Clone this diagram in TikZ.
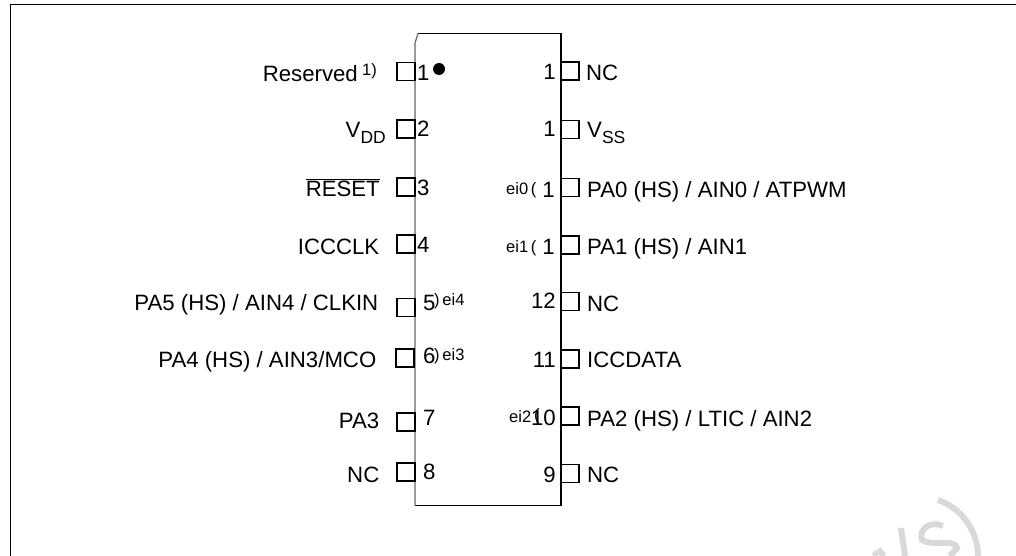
\documentclass[tikz,border=0pt]{standalone}
\usepackage{fontspec}
\setmainfont{Liberation Sans}
\newcommand{\lowtext}[1]{\raisebox{-6pt}{\fontsize{17.5}{17.5}\selectfont #1}}
\begin{document}
\begin{tikzpicture}[
    x=1pt,y=-1pt,
    line join=miter,
    pinbox/.style={rectangle,draw,line width=1.6pt,minimum width=18pt,minimum height=18pt,inner sep=0pt},
    pinname/.style={inner sep=0pt,anchor=base east,font=\fontsize{22.2}{22.2}\selectfont},
    rightname/.style={inner sep=0pt,anchor=base west,font=\fontsize{22.2}{22.2}\selectfont},
    pinnum/.style={inner sep=0pt,anchor=base west,font=\fontsize{22.2}{22.2}\selectfont},
    rightnum/.style={inner sep=0pt,anchor=base east,font=\fontsize{22.2}{22.2}\selectfont},
    tiny/.style={inner sep=0pt,anchor=base west,font=\fontsize{16.5}{16.5}\selectfont},
    stamp/.style={line width=6pt,color=black!15},
  ]

    \useasboundingbox (0,0) rectangle (1016,556);

    % frame
    \draw[line width=1.3pt] (10.5,556) -- (10.5,4.5) -- (1016,4.5);

    % package
    \coordinate (tl) at (415,43);
    \coordinate (tc) at (418,33.5);
    \coordinate (tr) at (561,33.5);
    \coordinate (br) at (561,505.5);
    \coordinate (bl) at (415,505.5);
    \draw[line width=1.7pt] (tc) -- (tr) -- (br) -- (bl);
    \draw[line width=1.2pt,color=black!60] (tc) -- (tl) -- (bl);
    \node[circle,fill,inner sep=0pt,minimum size=12pt] (dot) at (439,69) {};

    % left pins
    \node[pinbox] (p1)  at (406,71.5)  {};
    \node[pinbox] (p2)  at (406,129)   {};
    \node[pinbox] (p3)  at (406,187)   {};
    \node[pinbox] (p4)  at (406,244)   {};
    \node[pinbox] (p5)  at (406,307.5) {};
    \node[pinbox] (p6)  at (405,358)   {};
    \node[pinbox] (p7)  at (406,422)   {};
    \node[pinbox] (p8)  at (406,472)   {};

    % right pins
    \node[pinbox] (p20) at (570,71)    {};
    \node[pinbox] (p19) at (570,129.5) {};
    \node[pinbox] (p18) at (570,187.5) {};
    \node[pinbox] (p17) at (570,245)   {};
    \node[pinbox] (p12) at (570,301.5) {};
    \node[pinbox] (p11) at (570,359)   {};
    \node[pinbox] (p10) at (570,416)   {};
    \node[pinbox] (p9)  at (570,473.5) {};

    % left names
    \node[pinname] (n1) at (358,82)  {Reserved};
    \node[tiny]    (s1) at (362,76)  {1)};
    \node[pinname] (n2) at (386,138) {V\lowtext{DD}};
    \node[pinname] (n3) at (380,196) {$\overline{\mbox{RESET}}$};
    \node[pinname] (n4) at (379.5,254) {ICCCLK};
    \node[pinname] (n5) at (378.5,310) {PA5 (HS) / AIN4 / CLKIN};
    \node[pinname] (n6) at (376.5,367) {PA4 (HS) / AIN3/MCO};
    \node[pinname] (n7) at (379.5,428) {PA3};
    \node[pinname] (n8) at (379.5,482) {NC};

    % left numbers
    \node[pinnum] (m1) at (417,81)  {1};
    \node[pinnum] (m2) at (417,137) {2};
    \node[pinnum] (m3) at (417,195) {3};
    \node[pinnum] (m4) at (417,252) {4};
    \node[pinnum] (m5) at (423,310) {5};
    \node[pinnum] (m6) at (423,363) {6};
    \node[pinnum] (m7) at (423,425) {7};
    \node[pinnum] (m8) at (423,479) {8};

    % small marks by the numbers
    \node[tiny] (e4) at (434,305) {)\,ei4};
    \node[tiny] (e3) at (434,360) {)\,ei3};
    \node[tiny] (e0) at (506,194) {ei0\,(};
    \node[tiny] (e1) at (506,252) {ei1\,(};
    \node[tiny] (e2) at (509,422) {ei2};
    \node[tiny] (e5) at (534,420) {(};

    % right numbers
    \node[rightnum] (m20) at (556,80)  {1};
    \node[rightnum] (m19) at (556,137) {1};
    \node[rightnum] (m18) at (555,197) {1};
    \node[rightnum] (m17) at (555,254) {1};
    \node[rightnum] (m12) at (556,308) {12};
    \node[rightnum] (m11) at (556,367) {11};
    \node[rightnum] (m10) at (556,425) {10};
    \node[rightnum] (m9)  at (556,482) {9};

    % right names
    \node[rightname] (n20) at (586,81)  {NC};
    \node[rightname] (n19) at (587,138) {V\lowtext{SS}};
    \node[rightname] (n18) at (587,197) {PA0 (HS) / AIN0 / ATPWM};
    \node[rightname] (n17) at (587,254) {PA1 (HS) / AIN1};
    \node[rightname] (n12) at (587,311) {NC};
    \node[rightname] (n11) at (587,367) {ICCDATA};
    \node[rightname] (n10) at (587,426) {PA2 (HS) / LTIC / AIN2};
    \node[rightname] (n9)  at (587,482) {NC};

    % watermark
    \draw[stamp] (938,500) .. controls (962,508) and (978,532) .. (978,556);
    \draw[stamp] (901,528) -- (905,556);
    \draw[stamp] (877,552) -- (874,556);
    \draw[stamp] (878,549) -- (884,556);
    \draw[stamp] (943,526) .. controls (930,520) and (918,530) .. (922,540)
      .. controls (932,547) and (955,538) .. (957,548) -- (950,556);
\end{tikzpicture}
\end{document}
